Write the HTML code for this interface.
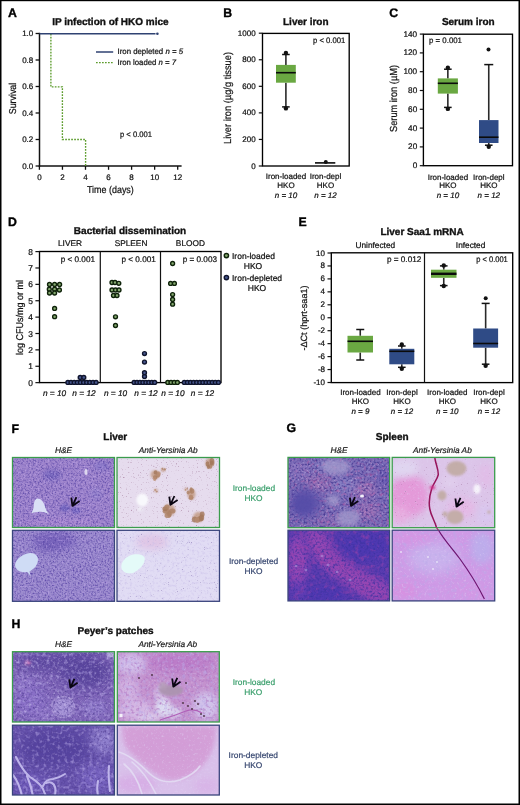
<!DOCTYPE html>
<html><head><meta charset="utf-8"><title>Figure</title>
<style>html,body{margin:0;padding:0;background:#fff}svg{display:block}text{white-space:pre;text-rendering:geometricPrecision}</style></head>
<body>
<svg width="520" height="805" viewBox="0 0 520 805" font-family="'Liberation Sans', Arial, Helvetica, sans-serif">
<defs>
<filter id="b1" x="-50%" y="-50%" width="200%" height="200%" color-interpolation-filters="sRGB"><feGaussianBlur stdDeviation="1"/></filter>
<filter id="b2" x="-50%" y="-50%" width="200%" height="200%" color-interpolation-filters="sRGB"><feGaussianBlur stdDeviation="2"/></filter>
<filter id="b3" x="-50%" y="-50%" width="200%" height="200%" color-interpolation-filters="sRGB"><feGaussianBlur stdDeviation="3.5"/></filter>
<filter id="b5" x="-50%" y="-50%" width="200%" height="200%" color-interpolation-filters="sRGB"><feGaussianBlur stdDeviation="6"/></filter>
<filter id="b05" x="-50%" y="-50%" width="200%" height="200%" color-interpolation-filters="sRGB"><feGaussianBlur stdDeviation="0.6"/></filter>
<filter id="nDark" x="0" y="0" width="100%" height="100%" color-interpolation-filters="sRGB"><feTurbulence type="fractalNoise" baseFrequency="0.6" numOctaves="2" seed="3" result="t"/><feColorMatrix in="t" type="matrix" values="0 0 0 0 0.345  0 0 0 0 0.267  0 0 0 0 0.647  2.1 0 0 0 -0.9"/></filter>
<filter id="nLtP" x="0" y="0" width="100%" height="100%" color-interpolation-filters="sRGB"><feTurbulence type="fractalNoise" baseFrequency="0.5" numOctaves="2" seed="31" result="t"/><feColorMatrix in="t" type="matrix" values="0 0 0 0 0.769  0 0 0 0 0.667  0 0 0 0 0.925  1.8 0 0 0 -0.9"/></filter>
<filter id="nDark2" x="0" y="0" width="100%" height="100%" color-interpolation-filters="sRGB"><feTurbulence type="fractalNoise" baseFrequency="0.5" numOctaves="2" seed="11" result="t"/><feColorMatrix in="t" type="matrix" values="0 0 0 0 0.235  0 0 0 0 0.188  0 0 0 0 0.549  2.2 0 0 0 -0.95"/></filter>
<filter id="nLight" x="0" y="0" width="100%" height="100%" color-interpolation-filters="sRGB"><feTurbulence type="fractalNoise" baseFrequency="0.45" numOctaves="2" seed="7" result="t"/><feColorMatrix in="t" type="matrix" values="0 0 0 0 0.882  0 0 0 0 0.843  0 0 0 0 0.961  1.4 0 0 0 -0.8"/></filter>
<filter id="nPink" x="0" y="0" width="100%" height="100%" color-interpolation-filters="sRGB"><feTurbulence type="fractalNoise" baseFrequency="0.3" numOctaves="2" seed="5" result="t"/><feColorMatrix in="t" type="matrix" values="0 0 0 0 0.784  0 0 0 0 0.373  0 0 0 0 0.659  1.5 0 0 0 -0.8"/></filter>
<filter id="nBrown" x="0" y="0" width="100%" height="100%" color-interpolation-filters="sRGB"><feTurbulence type="fractalNoise" baseFrequency="0.8" numOctaves="2" seed="9" result="t"/><feColorMatrix in="t" type="matrix" values="0 0 0 0 0.608  0 0 0 0 0.439  0 0 0 0 0.569  2.6 0 0 0 -1.66"/></filter>
<filter id="nSparse" x="0" y="0" width="100%" height="100%" color-interpolation-filters="sRGB"><feTurbulence type="fractalNoise" baseFrequency="0.9" numOctaves="2" seed="41" result="t"/><feColorMatrix in="t" type="matrix" values="0 0 0 0 0.588  0 0 0 0 0.412  0 0 0 0 0.588  3.0 0 0 0 -2.12"/></filter>
<filter id="nViolet" x="0" y="0" width="100%" height="100%" color-interpolation-filters="sRGB"><feTurbulence type="fractalNoise" baseFrequency="0.45" numOctaves="2" seed="27" result="t"/><feColorMatrix in="t" type="matrix" values="0 0 0 0 0.329  0 0 0 0 0.251  0 0 0 0 0.588  2.0 0 0 0 -0.9"/></filter>
<filter id="nSpF4" x="0" y="0" width="100%" height="100%" color-interpolation-filters="sRGB"><feTurbulence type="fractalNoise" baseFrequency="0.85" numOctaves="2" seed="51" result="t"/><feColorMatrix in="t" type="matrix" values="0 0 0 0 0.471  0 0 0 0 0.392  0 0 0 0 0.647  3.0 0 0 0 -2.08"/></filter>
<filter id="nMotF4" x="0" y="0" width="100%" height="100%" color-interpolation-filters="sRGB"><feTurbulence type="fractalNoise" baseFrequency="0.4" numOctaves="2" seed="53" result="t"/><feColorMatrix in="t" type="matrix" values="0 0 0 0 0.784  0 0 0 0 0.745  0 0 0 0 0.910  1.6 0 0 0 -0.8"/></filter>
<filter id="nPurp" x="0" y="0" width="100%" height="100%" color-interpolation-filters="sRGB"><feTurbulence type="fractalNoise" baseFrequency="0.35" numOctaves="2" seed="23" result="t"/><feColorMatrix in="t" type="matrix" values="0 0 0 0 0.659  0 0 0 0 0.408  0 0 0 0 0.737  1.8 0 0 0 -0.88"/></filter>
<filter id="nBlue" x="0" y="0" width="100%" height="100%" color-interpolation-filters="sRGB"><feTurbulence type="fractalNoise" baseFrequency="0.45" numOctaves="2" seed="21" result="t"/><feColorMatrix in="t" type="matrix" values="0 0 0 0 0.235  0 0 0 0 0.196  0 0 0 0 0.627  2.2 0 0 0 -0.95"/></filter>
<filter id="nMag" x="0" y="0" width="100%" height="100%" color-interpolation-filters="sRGB"><feTurbulence type="fractalNoise" baseFrequency="0.2" numOctaves="3" seed="13" result="t"/><feColorMatrix in="t" type="matrix" values="0 0 0 0 0.647  0 0 0 0 0.259  0 0 0 0 0.667  1.8 0 0 0 -0.95"/></filter>
<filter id="nLav" x="0" y="0" width="100%" height="100%" color-interpolation-filters="sRGB"><feTurbulence type="fractalNoise" baseFrequency="0.28" numOctaves="2" seed="17" result="t"/><feColorMatrix in="t" type="matrix" values="0 0 0 0 0.725  0 0 0 0 0.667  0 0 0 0 0.910  1.7 0 0 0 -0.85"/></filter>
<clipPath id="cF1"><rect x="12.5" y="457.5" width="102.0" height="70.0"/></clipPath>
<clipPath id="cF2"><rect x="117" y="457.5" width="102.5" height="70.0"/></clipPath>
<clipPath id="cF3"><rect x="12.5" y="530.3" width="102.0" height="71.0"/></clipPath>
<clipPath id="cF4"><rect x="117" y="530.3" width="102.5" height="71.0"/></clipPath>
<clipPath id="cG1"><rect x="288" y="457.4" width="101.60000000000002" height="70.30000000000007"/></clipPath>
<clipPath id="cG2"><rect x="392.2" y="457.4" width="102.5" height="70.30000000000007"/></clipPath>
<clipPath id="cG3"><rect x="288" y="530.2" width="101.60000000000002" height="70.69999999999993"/></clipPath>
<clipPath id="cG4"><rect x="392.2" y="530.2" width="102.5" height="70.69999999999993"/></clipPath>
<clipPath id="cH1"><rect x="12.5" y="651.7" width="102.0" height="70.29999999999995"/></clipPath>
<clipPath id="cH2"><rect x="117.3" y="651.7" width="102.00000000000001" height="70.29999999999995"/></clipPath>
<clipPath id="cH3"><rect x="12.5" y="725.2" width="102.0" height="69.79999999999995"/></clipPath>
<clipPath id="cH4"><rect x="117.3" y="725.2" width="102.00000000000001" height="69.79999999999995"/></clipPath>
</defs>
<rect x="0" y="0" width="520" height="805" fill="#fff"/>
<text x="8" y="17.2" font-size="12.3" text-anchor="start" font-weight="bold" fill="#000" stroke="#000" stroke-width="0.35">A</text>
<text x="223.2" y="17.4" font-size="12.3" text-anchor="start" font-weight="bold" fill="#000" stroke="#000" stroke-width="0.35">B</text>
<text x="389.3" y="17.4" font-size="12.3" text-anchor="start" font-weight="bold" fill="#000" stroke="#000" stroke-width="0.35">C</text>
<text x="8" y="226" font-size="12.3" text-anchor="start" font-weight="bold" fill="#000" stroke="#000" stroke-width="0.35">D</text>
<text x="298.5" y="226.3" font-size="12.3" text-anchor="start" font-weight="bold" fill="#000" stroke="#000" stroke-width="0.35">E</text>
<text x="11.6" y="432.6" font-size="12.3" text-anchor="start" font-weight="bold" fill="#000" stroke="#000" stroke-width="0.35">F</text>
<text x="286.5" y="432.2" font-size="12.3" text-anchor="start" font-weight="bold" fill="#000" stroke="#000" stroke-width="0.35">G</text>
<text x="11.6" y="627.6" font-size="12.3" text-anchor="start" font-weight="bold" fill="#000" stroke="#000" stroke-width="0.35">H</text>
<text x="110.4" y="24.8" font-size="10" text-anchor="middle" font-weight="bold" fill="#111" stroke="#111" stroke-width="0.35">IP infection of HKO mice</text>
<line x1="39.5" y1="32.8" x2="39.5" y2="166.7" stroke="#111" stroke-width="1.5"/>
<line x1="38.8" y1="166" x2="181.6" y2="166" stroke="#111" stroke-width="1.5"/>
<line x1="35.6" y1="33.5" x2="39.5" y2="33.5" stroke="#111" stroke-width="1.3"/>
<text x="33.3" y="36.0" font-size="8" text-anchor="end" fill="#111" stroke="#111" stroke-width="0.22">1.0</text>
<line x1="35.6" y1="60.0" x2="39.5" y2="60.0" stroke="#111" stroke-width="1.3"/>
<text x="33.3" y="62.5" font-size="8" text-anchor="end" fill="#111" stroke="#111" stroke-width="0.22">0.8</text>
<line x1="35.6" y1="86.5" x2="39.5" y2="86.5" stroke="#111" stroke-width="1.3"/>
<text x="33.3" y="89.0" font-size="8" text-anchor="end" fill="#111" stroke="#111" stroke-width="0.22">0.6</text>
<line x1="35.6" y1="113.0" x2="39.5" y2="113.0" stroke="#111" stroke-width="1.3"/>
<text x="33.3" y="115.5" font-size="8" text-anchor="end" fill="#111" stroke="#111" stroke-width="0.22">0.4</text>
<line x1="35.6" y1="139.5" x2="39.5" y2="139.5" stroke="#111" stroke-width="1.3"/>
<text x="33.3" y="142.0" font-size="8" text-anchor="end" fill="#111" stroke="#111" stroke-width="0.22">0.2</text>
<line x1="35.6" y1="166.0" x2="39.5" y2="166.0" stroke="#111" stroke-width="1.3"/>
<text x="33.3" y="168.5" font-size="8" text-anchor="end" fill="#111" stroke="#111" stroke-width="0.22">0.0</text>
<line x1="39.4" y1="166" x2="39.4" y2="169.8" stroke="#111" stroke-width="1.3"/>
<text x="39.4" y="179.6" font-size="8" text-anchor="middle" fill="#111" stroke="#111" stroke-width="0.22">0</text>
<line x1="62.45" y1="166" x2="62.45" y2="169.8" stroke="#111" stroke-width="1.3"/>
<text x="62.45" y="179.6" font-size="8" text-anchor="middle" fill="#111" stroke="#111" stroke-width="0.22">2</text>
<line x1="85.5" y1="166" x2="85.5" y2="169.8" stroke="#111" stroke-width="1.3"/>
<text x="85.5" y="179.6" font-size="8" text-anchor="middle" fill="#111" stroke="#111" stroke-width="0.22">4</text>
<line x1="108.55000000000001" y1="166" x2="108.55000000000001" y2="169.8" stroke="#111" stroke-width="1.3"/>
<text x="108.55000000000001" y="179.6" font-size="8" text-anchor="middle" fill="#111" stroke="#111" stroke-width="0.22">6</text>
<line x1="131.6" y1="166" x2="131.6" y2="169.8" stroke="#111" stroke-width="1.3"/>
<text x="131.6" y="179.6" font-size="8" text-anchor="middle" fill="#111" stroke="#111" stroke-width="0.22">8</text>
<line x1="154.65" y1="166" x2="154.65" y2="169.8" stroke="#111" stroke-width="1.3"/>
<text x="154.65" y="179.6" font-size="8" text-anchor="middle" fill="#111" stroke="#111" stroke-width="0.22">10</text>
<line x1="177.70000000000002" y1="166" x2="177.70000000000002" y2="169.8" stroke="#111" stroke-width="1.3"/>
<text x="177.70000000000002" y="179.6" font-size="8" text-anchor="middle" fill="#111" stroke="#111" stroke-width="0.22">12</text>
<text x="110.4" y="193" font-size="10" text-anchor="middle" fill="#111" stroke="#111" stroke-width="0.22" textLength="46.8" lengthAdjust="spacingAndGlyphs">Time (days)</text>
<text transform="translate(15.5,98.5) rotate(-90)" font-size="10" text-anchor="middle" fill="#111" stroke="#111" stroke-width="0.22" textLength="31.4" lengthAdjust="spacingAndGlyphs">Survival</text>
<path d="M50.9,33.8 V86.9 H62.4 V139.5 H85.6 V166" fill="none" stroke="#5c9c2c" stroke-width="1.35" stroke-dasharray="1.7,1.3"/>
<line x1="39.5" y1="33.8" x2="155.5" y2="33.8" stroke="#2f4272" stroke-width="1.4"/>
<circle cx="157.4" cy="33.8" r="1.3" fill="#2f4272"/>
<line x1="96" y1="52" x2="113.2" y2="52" stroke="#2f4272" stroke-width="1.5"/>
<line x1="96" y1="62.6" x2="113.2" y2="62.6" stroke="#5c9c2c" stroke-width="1.35" stroke-dasharray="1.7,1.3"/>
<text x="117.5" y="54.4" font-size="8" text-anchor="start" fill="#111" stroke="#111" stroke-width="0.22" textLength="65.5" lengthAdjust="spacingAndGlyphs">Iron depleted <tspan font-style="italic">n = 5</tspan></text>
<text x="117.5" y="65.1" font-size="8" text-anchor="start" fill="#111" stroke="#111" stroke-width="0.22" textLength="58.5" lengthAdjust="spacingAndGlyphs">Iron loaded <tspan font-style="italic">n = 7</tspan></text>
<text x="120" y="136.8" font-size="8" text-anchor="start" fill="#111" stroke="#111" stroke-width="0.22" textLength="32" lengthAdjust="spacingAndGlyphs">p &lt; 0.001</text>
<text x="305.8" y="24.8" font-size="10" text-anchor="middle" font-weight="bold" fill="#111" stroke="#111" stroke-width="0.35">Liver iron</text>
<rect x="262.5" y="33.4" width="86.7" height="132.6" fill="none" stroke="#000" stroke-width="1.35"/>
<line x1="258.8" y1="33.2" x2="262.5" y2="33.2" stroke="#111" stroke-width="1.2"/>
<text x="255.6" y="35.7" font-size="8" text-anchor="end" fill="#111" stroke="#111" stroke-width="0.22">1000</text>
<line x1="258.8" y1="59.760000000000005" x2="262.5" y2="59.760000000000005" stroke="#111" stroke-width="1.2"/>
<text x="255.6" y="62.260000000000005" font-size="8" text-anchor="end" fill="#111" stroke="#111" stroke-width="0.22">800</text>
<line x1="258.8" y1="86.32" x2="262.5" y2="86.32" stroke="#111" stroke-width="1.2"/>
<text x="255.6" y="88.82" font-size="8" text-anchor="end" fill="#111" stroke="#111" stroke-width="0.22">600</text>
<line x1="258.8" y1="112.88" x2="262.5" y2="112.88" stroke="#111" stroke-width="1.2"/>
<text x="255.6" y="115.38" font-size="8" text-anchor="end" fill="#111" stroke="#111" stroke-width="0.22">400</text>
<line x1="258.8" y1="139.44" x2="262.5" y2="139.44" stroke="#111" stroke-width="1.2"/>
<text x="255.6" y="141.94" font-size="8" text-anchor="end" fill="#111" stroke="#111" stroke-width="0.22">200</text>
<line x1="258.8" y1="166.0" x2="262.5" y2="166.0" stroke="#111" stroke-width="1.2"/>
<text x="255.6" y="168.5" font-size="8" text-anchor="end" fill="#111" stroke="#111" stroke-width="0.22">0</text>
<text x="313" y="43.2" font-size="8" text-anchor="start" fill="#111" stroke="#111" stroke-width="0.22" textLength="32.3" lengthAdjust="spacingAndGlyphs">p &lt; 0.001</text>
<line x1="285.9" y1="53" x2="285.9" y2="64.9" stroke="#2a2a2a" stroke-width="1.6"/>
<line x1="285.9" y1="82.7" x2="285.9" y2="108.4" stroke="#2a2a2a" stroke-width="1.6"/>
<rect x="276" y="64.9" width="19.80000000000001" height="17.799999999999997" fill="#6aa842"/>
<line x1="276" y1="72.7" x2="295.8" y2="72.7" stroke="#0b0b0b" stroke-width="1.6"/>
<line x1="282.09999999999997" y1="54.5" x2="289.7" y2="54.5" stroke="#111" stroke-width="1.5"/>
<circle cx="285.9" cy="53" r="2.2" fill="#111"/>
<line x1="282.09999999999997" y1="106.9" x2="289.7" y2="106.9" stroke="#111" stroke-width="1.5"/>
<circle cx="285.9" cy="108.4" r="2.2" fill="#111"/>
<line x1="315" y1="162.9" x2="335.3" y2="162.9" stroke="#0b0b0b" stroke-width="1.6"/>
<circle cx="325.8" cy="161.9" r="2" fill="#111"/>
<text x="286" y="179.3" font-size="8" text-anchor="middle" fill="#111" stroke="#111" stroke-width="0.22">Iron-loaded</text>
<text x="286" y="187.8" font-size="8" text-anchor="middle" fill="#111" stroke="#111" stroke-width="0.22">HKO</text>
<text x="286" y="197.70000000000002" font-size="8" text-anchor="middle" font-style="italic" fill="#111" stroke="#111" stroke-width="0.22">n = 10</text>
<text x="325.5" y="179.3" font-size="8" text-anchor="middle" fill="#111" stroke="#111" stroke-width="0.22">Iron-depl</text>
<text x="325.5" y="187.8" font-size="8" text-anchor="middle" fill="#111" stroke="#111" stroke-width="0.22">HKO</text>
<text x="325.5" y="197.70000000000002" font-size="8" text-anchor="middle" font-style="italic" fill="#111" stroke="#111" stroke-width="0.22">n = 12</text>
<text transform="translate(231.2,98) rotate(-90)" font-size="10.2" text-anchor="middle" fill="#111" stroke="#111" stroke-width="0.22" textLength="92" lengthAdjust="spacingAndGlyphs">Liver iron (µg/g tissue)</text>
<text x="468.3" y="24.8" font-size="10" text-anchor="middle" font-weight="bold" fill="#111" stroke="#111" stroke-width="0.35">Serum iron</text>
<rect x="423.4" y="34.2" width="89.1" height="131.5" fill="none" stroke="#000" stroke-width="1.35"/>
<line x1="419.8" y1="34.1" x2="423.4" y2="34.1" stroke="#111" stroke-width="1.2"/>
<text x="417.2" y="36.6" font-size="8.2" text-anchor="end" fill="#111" stroke="#111" stroke-width="0.22">140</text>
<line x1="419.8" y1="52.900000000000006" x2="423.4" y2="52.900000000000006" stroke="#111" stroke-width="1.2"/>
<text x="417.2" y="55.400000000000006" font-size="8.2" text-anchor="end" fill="#111" stroke="#111" stroke-width="0.22">120</text>
<line x1="419.8" y1="71.7" x2="423.4" y2="71.7" stroke="#111" stroke-width="1.2"/>
<text x="417.2" y="74.2" font-size="8.2" text-anchor="end" fill="#111" stroke="#111" stroke-width="0.22">100</text>
<line x1="419.8" y1="90.5" x2="423.4" y2="90.5" stroke="#111" stroke-width="1.2"/>
<text x="417.2" y="93.0" font-size="8.2" text-anchor="end" fill="#111" stroke="#111" stroke-width="0.22">80</text>
<line x1="419.8" y1="109.30000000000001" x2="423.4" y2="109.30000000000001" stroke="#111" stroke-width="1.2"/>
<text x="417.2" y="111.80000000000001" font-size="8.2" text-anchor="end" fill="#111" stroke="#111" stroke-width="0.22">60</text>
<line x1="419.8" y1="128.1" x2="423.4" y2="128.1" stroke="#111" stroke-width="1.2"/>
<text x="417.2" y="130.6" font-size="8.2" text-anchor="end" fill="#111" stroke="#111" stroke-width="0.22">40</text>
<line x1="419.8" y1="146.9" x2="423.4" y2="146.9" stroke="#111" stroke-width="1.2"/>
<text x="417.2" y="149.4" font-size="8.2" text-anchor="end" fill="#111" stroke="#111" stroke-width="0.22">20</text>
<line x1="419.8" y1="165.7" x2="423.4" y2="165.7" stroke="#111" stroke-width="1.2"/>
<text x="417.2" y="168.2" font-size="8.2" text-anchor="end" fill="#111" stroke="#111" stroke-width="0.22">0</text>
<text x="429" y="43.3" font-size="8" text-anchor="start" fill="#111" stroke="#111" stroke-width="0.22" textLength="33" lengthAdjust="spacingAndGlyphs">p = 0.001</text>
<line x1="447.85" y1="67.7" x2="447.85" y2="78.4" stroke="#2a2a2a" stroke-width="1.6"/>
<line x1="447.85" y1="93.6" x2="447.85" y2="108.9" stroke="#2a2a2a" stroke-width="1.6"/>
<rect x="437.8" y="78.4" width="20.099999999999966" height="15.199999999999989" fill="#6aa842"/>
<line x1="437.8" y1="83.3" x2="457.9" y2="83.3" stroke="#0b0b0b" stroke-width="1.6"/>
<line x1="444.05" y1="69.2" x2="451.65000000000003" y2="69.2" stroke="#111" stroke-width="1.5"/>
<circle cx="447.85" cy="67.7" r="2.2" fill="#111"/>
<line x1="444.05" y1="107.4" x2="451.65000000000003" y2="107.4" stroke="#111" stroke-width="1.5"/>
<circle cx="447.85" cy="108.9" r="2.2" fill="#111"/>
<line x1="488.75" y1="64.6" x2="488.75" y2="120.1" stroke="#2a2a2a" stroke-width="1.6"/>
<line x1="488.75" y1="143" x2="488.75" y2="146.7" stroke="#2a2a2a" stroke-width="1.6"/>
<rect x="479" y="120.1" width="19.5" height="22.900000000000006" fill="#2f4b86"/>
<line x1="479" y1="137.2" x2="498.5" y2="137.2" stroke="#0b0b0b" stroke-width="1.6"/>
<line x1="484.25" y1="64.6" x2="493.25" y2="64.6" stroke="#111" stroke-width="1.5"/>
<line x1="484.95" y1="145.2" x2="492.55" y2="145.2" stroke="#111" stroke-width="1.5"/>
<circle cx="488.75" cy="146.7" r="2.2" fill="#111"/>
<circle cx="488.5" cy="49.6" r="2" fill="#111"/>
<text x="447.9" y="179.7" font-size="8" text-anchor="middle" fill="#111" stroke="#111" stroke-width="0.22">Iron-loaded</text>
<text x="447.9" y="188.2" font-size="8" text-anchor="middle" fill="#111" stroke="#111" stroke-width="0.22">HKO</text>
<text x="447.9" y="198.1" font-size="8" text-anchor="middle" font-style="italic" fill="#111" stroke="#111" stroke-width="0.22">n = 10</text>
<text x="488.8" y="179.7" font-size="8" text-anchor="middle" fill="#111" stroke="#111" stroke-width="0.22">Iron-depl</text>
<text x="488.8" y="188.2" font-size="8" text-anchor="middle" fill="#111" stroke="#111" stroke-width="0.22">HKO</text>
<text x="488.8" y="198.1" font-size="8" text-anchor="middle" font-style="italic" fill="#111" stroke="#111" stroke-width="0.22">n = 12</text>
<text transform="translate(396.8,98.5) rotate(-90)" font-size="10.2" text-anchor="middle" fill="#111" stroke="#111" stroke-width="0.22" textLength="67" lengthAdjust="spacingAndGlyphs">Serum iron (µM)</text>
<text x="130" y="233.7" font-size="10" text-anchor="middle" font-weight="bold" fill="#111" stroke="#111" stroke-width="0.35">Bacterial dissemination</text>
<rect x="39.5" y="251.5" width="181.5" height="131.10000000000002" fill="none" stroke="#000" stroke-width="1.35"/>
<line x1="100.3" y1="251.5" x2="100.3" y2="382.6" stroke="#111" stroke-width="1.2"/>
<line x1="160.5" y1="251.5" x2="160.5" y2="382.6" stroke="#111" stroke-width="1.2"/>
<line x1="35.4" y1="251.6" x2="39.5" y2="251.6" stroke="#111" stroke-width="1.2"/>
<text x="32.9" y="254.6" font-size="8.4" text-anchor="end" fill="#111" stroke="#111" stroke-width="0.22">8</text>
<line x1="35.4" y1="267.98" x2="39.5" y2="267.98" stroke="#111" stroke-width="1.2"/>
<text x="32.9" y="270.98" font-size="8.4" text-anchor="end" fill="#111" stroke="#111" stroke-width="0.22">7</text>
<line x1="35.4" y1="284.36" x2="39.5" y2="284.36" stroke="#111" stroke-width="1.2"/>
<text x="32.9" y="287.36" font-size="8.4" text-anchor="end" fill="#111" stroke="#111" stroke-width="0.22">6</text>
<line x1="35.4" y1="300.74" x2="39.5" y2="300.74" stroke="#111" stroke-width="1.2"/>
<text x="32.9" y="303.74" font-size="8.4" text-anchor="end" fill="#111" stroke="#111" stroke-width="0.22">5</text>
<line x1="35.4" y1="317.12" x2="39.5" y2="317.12" stroke="#111" stroke-width="1.2"/>
<text x="32.9" y="320.12" font-size="8.4" text-anchor="end" fill="#111" stroke="#111" stroke-width="0.22">4</text>
<line x1="35.4" y1="333.5" x2="39.5" y2="333.5" stroke="#111" stroke-width="1.2"/>
<text x="32.9" y="336.5" font-size="8.4" text-anchor="end" fill="#111" stroke="#111" stroke-width="0.22">3</text>
<line x1="35.4" y1="349.88" x2="39.5" y2="349.88" stroke="#111" stroke-width="1.2"/>
<text x="32.9" y="352.88" font-size="8.4" text-anchor="end" fill="#111" stroke="#111" stroke-width="0.22">2</text>
<line x1="35.4" y1="366.26" x2="39.5" y2="366.26" stroke="#111" stroke-width="1.2"/>
<text x="32.9" y="369.26" font-size="8.4" text-anchor="end" fill="#111" stroke="#111" stroke-width="0.22">1</text>
<line x1="35.4" y1="382.64" x2="39.5" y2="382.64" stroke="#111" stroke-width="1.2"/>
<text x="32.9" y="385.64" font-size="8.4" text-anchor="end" fill="#111" stroke="#111" stroke-width="0.22">0</text>
<text x="70" y="246.2" font-size="8.3" text-anchor="middle" fill="#111" stroke="#111" stroke-width="0.22">LIVER</text>
<text x="131" y="246.2" font-size="8.3" text-anchor="middle" fill="#111" stroke="#111" stroke-width="0.22">SPLEEN</text>
<text x="190.4" y="246.2" font-size="8.3" text-anchor="middle" fill="#111" stroke="#111" stroke-width="0.22">BLOOD</text>
<text x="95" y="262.4" font-size="8.2" text-anchor="end" fill="#111" stroke="#111" stroke-width="0.22">p &lt; 0.001</text>
<text x="155.8" y="262.4" font-size="8.2" text-anchor="end" fill="#111" stroke="#111" stroke-width="0.22">p &lt; 0.001</text>
<text x="217" y="262.4" font-size="8.2" text-anchor="end" fill="#111" stroke="#111" stroke-width="0.22">p = 0.003</text>
<text x="54.6" y="396" font-size="8.3" text-anchor="middle" font-style="italic" fill="#111" stroke="#111" stroke-width="0.22">n = 10</text>
<text x="84" y="396" font-size="8.3" text-anchor="middle" font-style="italic" fill="#111" stroke="#111" stroke-width="0.22">n = 12</text>
<text x="115.6" y="396" font-size="8.3" text-anchor="middle" font-style="italic" fill="#111" stroke="#111" stroke-width="0.22">n = 10</text>
<text x="146" y="396" font-size="8.3" text-anchor="middle" font-style="italic" fill="#111" stroke="#111" stroke-width="0.22">n = 12</text>
<text x="172.9" y="396" font-size="8.3" text-anchor="middle" font-style="italic" fill="#111" stroke="#111" stroke-width="0.22">n = 10</text>
<text x="202.5" y="396" font-size="8.3" text-anchor="middle" font-style="italic" fill="#111" stroke="#111" stroke-width="0.22">n = 12</text>
<text transform="translate(23.2,317.4) rotate(-90)" font-size="9.8" text-anchor="middle" fill="#111" stroke="#111" stroke-width="0.22" textLength="75" lengthAdjust="spacingAndGlyphs">log CFUs/mg or ml</text>
<circle cx="49.5" cy="284.5" r="1.95" fill="#86aa70" stroke="#0f230a" stroke-width="1.4"/>
<circle cx="54.6" cy="284.5" r="1.95" fill="#86aa70" stroke="#0f230a" stroke-width="1.4"/>
<circle cx="59.6" cy="284.5" r="1.95" fill="#86aa70" stroke="#0f230a" stroke-width="1.4"/>
<circle cx="49.3" cy="289.2" r="1.95" fill="#86aa70" stroke="#0f230a" stroke-width="1.4"/>
<circle cx="54.6" cy="289.2" r="1.95" fill="#86aa70" stroke="#0f230a" stroke-width="1.4"/>
<circle cx="59.4" cy="290.0" r="1.95" fill="#86aa70" stroke="#0f230a" stroke-width="1.4"/>
<circle cx="49.5" cy="293.0" r="1.95" fill="#86aa70" stroke="#0f230a" stroke-width="1.4"/>
<circle cx="54.6" cy="293.0" r="1.95" fill="#86aa70" stroke="#0f230a" stroke-width="1.4"/>
<circle cx="54.6" cy="308.4" r="1.95" fill="#86aa70" stroke="#0f230a" stroke-width="1.4"/>
<circle cx="54.6" cy="316.7" r="1.95" fill="#86aa70" stroke="#0f230a" stroke-width="1.4"/>
<circle cx="67.9" cy="382.4" r="1.95" fill="#48588e" stroke="#0f142d" stroke-width="1.4"/>
<circle cx="71.0" cy="382.4" r="1.95" fill="#48588e" stroke="#0f142d" stroke-width="1.4"/>
<circle cx="74.2" cy="382.4" r="1.95" fill="#48588e" stroke="#0f142d" stroke-width="1.4"/>
<circle cx="77.3" cy="382.4" r="1.95" fill="#48588e" stroke="#0f142d" stroke-width="1.4"/>
<circle cx="80.4" cy="382.4" r="1.95" fill="#48588e" stroke="#0f142d" stroke-width="1.4"/>
<circle cx="83.6" cy="382.4" r="1.95" fill="#48588e" stroke="#0f142d" stroke-width="1.4"/>
<circle cx="86.7" cy="382.4" r="1.95" fill="#48588e" stroke="#0f142d" stroke-width="1.4"/>
<circle cx="89.8" cy="382.4" r="1.95" fill="#48588e" stroke="#0f142d" stroke-width="1.4"/>
<circle cx="93.0" cy="382.4" r="1.95" fill="#48588e" stroke="#0f142d" stroke-width="1.4"/>
<circle cx="96.1" cy="382.4" r="1.95" fill="#48588e" stroke="#0f142d" stroke-width="1.4"/>
<circle cx="80.2" cy="377.4" r="1.95" fill="#48588e" stroke="#0f142d" stroke-width="1.4"/>
<circle cx="83.8" cy="377.4" r="1.95" fill="#48588e" stroke="#0f142d" stroke-width="1.4"/>
<circle cx="112.0" cy="282.5" r="1.95" fill="#86aa70" stroke="#0f230a" stroke-width="1.4"/>
<circle cx="115.0" cy="282.5" r="1.95" fill="#86aa70" stroke="#0f230a" stroke-width="1.4"/>
<circle cx="118.8" cy="283.3" r="1.95" fill="#86aa70" stroke="#0f230a" stroke-width="1.4"/>
<circle cx="112.0" cy="290.0" r="1.95" fill="#86aa70" stroke="#0f230a" stroke-width="1.4"/>
<circle cx="115.5" cy="290.0" r="1.95" fill="#86aa70" stroke="#0f230a" stroke-width="1.4"/>
<circle cx="119.0" cy="290.0" r="1.95" fill="#86aa70" stroke="#0f230a" stroke-width="1.4"/>
<circle cx="113.5" cy="295.5" r="1.95" fill="#86aa70" stroke="#0f230a" stroke-width="1.4"/>
<circle cx="117.0" cy="295.5" r="1.95" fill="#86aa70" stroke="#0f230a" stroke-width="1.4"/>
<circle cx="115.5" cy="316.8" r="1.95" fill="#86aa70" stroke="#0f230a" stroke-width="1.4"/>
<circle cx="115.5" cy="325.5" r="1.95" fill="#86aa70" stroke="#0f230a" stroke-width="1.4"/>
<circle cx="134.1" cy="382.4" r="1.95" fill="#48588e" stroke="#0f142d" stroke-width="1.4"/>
<circle cx="137.0" cy="382.4" r="1.95" fill="#48588e" stroke="#0f142d" stroke-width="1.4"/>
<circle cx="140.0" cy="382.4" r="1.95" fill="#48588e" stroke="#0f142d" stroke-width="1.4"/>
<circle cx="142.9" cy="382.4" r="1.95" fill="#48588e" stroke="#0f142d" stroke-width="1.4"/>
<circle cx="145.9" cy="382.4" r="1.95" fill="#48588e" stroke="#0f142d" stroke-width="1.4"/>
<circle cx="148.8" cy="382.4" r="1.95" fill="#48588e" stroke="#0f142d" stroke-width="1.4"/>
<circle cx="151.8" cy="382.4" r="1.95" fill="#48588e" stroke="#0f142d" stroke-width="1.4"/>
<circle cx="154.7" cy="382.4" r="1.95" fill="#48588e" stroke="#0f142d" stroke-width="1.4"/>
<circle cx="144.5" cy="376.5" r="1.95" fill="#48588e" stroke="#0f142d" stroke-width="1.4"/>
<circle cx="144.5" cy="372.7" r="1.95" fill="#48588e" stroke="#0f142d" stroke-width="1.4"/>
<circle cx="144.5" cy="362.1" r="1.95" fill="#48588e" stroke="#0f142d" stroke-width="1.4"/>
<circle cx="144.5" cy="353.6" r="1.95" fill="#48588e" stroke="#0f142d" stroke-width="1.4"/>
<circle cx="172.6" cy="263.5" r="1.95" fill="#86aa70" stroke="#0f230a" stroke-width="1.4"/>
<circle cx="170.6" cy="283.4" r="1.95" fill="#86aa70" stroke="#0f230a" stroke-width="1.4"/>
<circle cx="174.4" cy="283.4" r="1.95" fill="#86aa70" stroke="#0f230a" stroke-width="1.4"/>
<circle cx="172.6" cy="294.6" r="1.95" fill="#86aa70" stroke="#0f230a" stroke-width="1.4"/>
<circle cx="172.6" cy="299.4" r="1.95" fill="#86aa70" stroke="#0f230a" stroke-width="1.4"/>
<circle cx="172.6" cy="304.2" r="1.95" fill="#86aa70" stroke="#0f230a" stroke-width="1.4"/>
<circle cx="167.8" cy="382.4" r="1.95" fill="#86aa70" stroke="#0f230a" stroke-width="1.4"/>
<circle cx="171.0" cy="382.4" r="1.95" fill="#86aa70" stroke="#0f230a" stroke-width="1.4"/>
<circle cx="174.2" cy="382.4" r="1.95" fill="#86aa70" stroke="#0f230a" stroke-width="1.4"/>
<circle cx="177.4" cy="382.4" r="1.95" fill="#86aa70" stroke="#0f230a" stroke-width="1.4"/>
<circle cx="184.3" cy="382.4" r="1.95" fill="#48588e" stroke="#0f142d" stroke-width="1.4"/>
<circle cx="187.4" cy="382.4" r="1.95" fill="#48588e" stroke="#0f142d" stroke-width="1.4"/>
<circle cx="190.5" cy="382.4" r="1.95" fill="#48588e" stroke="#0f142d" stroke-width="1.4"/>
<circle cx="193.6" cy="382.4" r="1.95" fill="#48588e" stroke="#0f142d" stroke-width="1.4"/>
<circle cx="196.7" cy="382.4" r="1.95" fill="#48588e" stroke="#0f142d" stroke-width="1.4"/>
<circle cx="199.8" cy="382.4" r="1.95" fill="#48588e" stroke="#0f142d" stroke-width="1.4"/>
<circle cx="202.9" cy="382.4" r="1.95" fill="#48588e" stroke="#0f142d" stroke-width="1.4"/>
<circle cx="206.0" cy="382.4" r="1.95" fill="#48588e" stroke="#0f142d" stroke-width="1.4"/>
<circle cx="209.1" cy="382.4" r="1.95" fill="#48588e" stroke="#0f142d" stroke-width="1.4"/>
<circle cx="212.2" cy="382.4" r="1.95" fill="#48588e" stroke="#0f142d" stroke-width="1.4"/>
<circle cx="215.3" cy="382.4" r="1.95" fill="#48588e" stroke="#0f142d" stroke-width="1.4"/>
<circle cx="218.4" cy="382.4" r="1.95" fill="#48588e" stroke="#0f142d" stroke-width="1.4"/>
<circle cx="226.4" cy="255.6" r="2.15" fill="#86aa70" stroke="#0f230a" stroke-width="1.4"/>
<circle cx="226.4" cy="277.6" r="2.15" fill="#48588e" stroke="#0f142d" stroke-width="1.4"/>
<text x="232" y="258.5" font-size="8.5" text-anchor="start" fill="#111" stroke="#111" stroke-width="0.22">Iron-loaded</text>
<text x="253" y="269.3" font-size="8.5" text-anchor="middle" fill="#111" stroke="#111" stroke-width="0.22">HKO</text>
<text x="232" y="280.5" font-size="8.5" text-anchor="start" fill="#111" stroke="#111" stroke-width="0.22">Iron-depleted</text>
<text x="257" y="291.3" font-size="8.5" text-anchor="middle" fill="#111" stroke="#111" stroke-width="0.22">HKO</text>
<text x="422.1" y="235" font-size="10" text-anchor="middle" font-weight="bold" fill="#111" stroke="#111" stroke-width="0.35">Liver Saa1 mRNA</text>
<text x="375.3" y="247.9" font-size="8.3" text-anchor="middle" fill="#111" stroke="#111" stroke-width="0.22">Uninfected</text>
<text x="470.6" y="247.9" font-size="8.3" text-anchor="middle" fill="#111" stroke="#111" stroke-width="0.22">Infected</text>
<rect x="331.3" y="252.8" width="181.4" height="129.8" fill="none" stroke="#000" stroke-width="1.35"/>
<line x1="424.5" y1="252.8" x2="424.5" y2="382.4" stroke="#111" stroke-width="1.2"/>
<line x1="327.5" y1="253.0" x2="331.3" y2="253.0" stroke="#111" stroke-width="1.2"/>
<text x="325" y="255.5" font-size="8" text-anchor="end" fill="#111" stroke="#111" stroke-width="0.22">10</text>
<line x1="327.5" y1="265.95" x2="331.3" y2="265.95" stroke="#111" stroke-width="1.2"/>
<text x="325" y="268.45" font-size="8" text-anchor="end" fill="#111" stroke="#111" stroke-width="0.22">8</text>
<line x1="327.5" y1="278.9" x2="331.3" y2="278.9" stroke="#111" stroke-width="1.2"/>
<text x="325" y="281.4" font-size="8" text-anchor="end" fill="#111" stroke="#111" stroke-width="0.22">6</text>
<line x1="327.5" y1="291.85" x2="331.3" y2="291.85" stroke="#111" stroke-width="1.2"/>
<text x="325" y="294.35" font-size="8" text-anchor="end" fill="#111" stroke="#111" stroke-width="0.22">4</text>
<line x1="327.5" y1="304.8" x2="331.3" y2="304.8" stroke="#111" stroke-width="1.2"/>
<text x="325" y="307.3" font-size="8" text-anchor="end" fill="#111" stroke="#111" stroke-width="0.22">2</text>
<line x1="327.5" y1="317.75" x2="331.3" y2="317.75" stroke="#111" stroke-width="1.2"/>
<text x="325" y="320.25" font-size="8" text-anchor="end" fill="#111" stroke="#111" stroke-width="0.22">0</text>
<line x1="327.5" y1="330.7" x2="331.3" y2="330.7" stroke="#111" stroke-width="1.2"/>
<text x="325" y="333.2" font-size="8" text-anchor="end" fill="#111" stroke="#111" stroke-width="0.22">-2</text>
<line x1="327.5" y1="343.65" x2="331.3" y2="343.65" stroke="#111" stroke-width="1.2"/>
<text x="325" y="346.15" font-size="8" text-anchor="end" fill="#111" stroke="#111" stroke-width="0.22">-4</text>
<line x1="327.5" y1="356.6" x2="331.3" y2="356.6" stroke="#111" stroke-width="1.2"/>
<text x="325" y="359.1" font-size="8" text-anchor="end" fill="#111" stroke="#111" stroke-width="0.22">-6</text>
<line x1="327.5" y1="369.55" x2="331.3" y2="369.55" stroke="#111" stroke-width="1.2"/>
<text x="325" y="372.05" font-size="8" text-anchor="end" fill="#111" stroke="#111" stroke-width="0.22">-8</text>
<line x1="327.5" y1="382.5" x2="331.3" y2="382.5" stroke="#111" stroke-width="1.2"/>
<text x="325" y="385.0" font-size="8" text-anchor="end" fill="#111" stroke="#111" stroke-width="0.22">-10</text>
<text x="421.3" y="262.4" font-size="8.2" text-anchor="end" fill="#111" stroke="#111" stroke-width="0.22">p = 0.012</text>
<text x="507.8" y="262.4" font-size="8.2" text-anchor="end" fill="#111" stroke="#111" stroke-width="0.22" textLength="31.6" lengthAdjust="spacingAndGlyphs">p &lt; 0.001</text>
<line x1="360.25" y1="329.5" x2="360.25" y2="335.8" stroke="#2a2a2a" stroke-width="1.6"/>
<line x1="360.25" y1="352.5" x2="360.25" y2="360" stroke="#2a2a2a" stroke-width="1.6"/>
<rect x="347.5" y="335.8" width="25.5" height="16.69999999999999" fill="#6aa842"/>
<line x1="347.5" y1="341.3" x2="373" y2="341.3" stroke="#0b0b0b" stroke-width="1.6"/>
<line x1="356.25" y1="329.5" x2="364.25" y2="329.5" stroke="#111" stroke-width="1.5"/>
<line x1="356.25" y1="360" x2="364.25" y2="360" stroke="#111" stroke-width="1.5"/>
<line x1="401.8" y1="344.5" x2="401.8" y2="348.8" stroke="#2a2a2a" stroke-width="1.6"/>
<line x1="401.8" y1="364.3" x2="401.8" y2="368.8" stroke="#2a2a2a" stroke-width="1.6"/>
<rect x="389.3" y="348.8" width="25.0" height="15.5" fill="#2f4b86"/>
<line x1="389.3" y1="351.3" x2="414.3" y2="351.3" stroke="#0b0b0b" stroke-width="1.6"/>
<line x1="398.0" y1="346.0" x2="405.6" y2="346.0" stroke="#111" stroke-width="1.5"/>
<circle cx="401.8" cy="344.5" r="2.2" fill="#111"/>
<line x1="398.0" y1="367.3" x2="405.6" y2="367.3" stroke="#111" stroke-width="1.5"/>
<circle cx="401.8" cy="368.8" r="2.2" fill="#111"/>
<line x1="443.75" y1="265.5" x2="443.75" y2="269.7" stroke="#2a2a2a" stroke-width="1.6"/>
<line x1="443.75" y1="277.8" x2="443.75" y2="286" stroke="#2a2a2a" stroke-width="1.6"/>
<rect x="431" y="269.7" width="25.5" height="8.100000000000023" fill="#6aa842"/>
<line x1="431" y1="273.8" x2="456.5" y2="273.8" stroke="#0b0b0b" stroke-width="2.4"/>
<line x1="439.95" y1="265.9" x2="447.55" y2="265.9" stroke="#111" stroke-width="1.5"/>
<circle cx="443.75" cy="265.5" r="2.2" fill="#111"/>
<line x1="439.95" y1="285.6" x2="447.55" y2="285.6" stroke="#111" stroke-width="1.5"/>
<circle cx="443.75" cy="286" r="2.2" fill="#111"/>
<line x1="485.65" y1="303.4" x2="485.65" y2="328.5" stroke="#2a2a2a" stroke-width="1.6"/>
<line x1="485.65" y1="347.7" x2="485.65" y2="365.7" stroke="#2a2a2a" stroke-width="1.6"/>
<rect x="473.2" y="328.5" width="24.900000000000034" height="19.19999999999999" fill="#2f4b86"/>
<line x1="473.2" y1="343.5" x2="498.1" y2="343.5" stroke="#0b0b0b" stroke-width="1.6"/>
<line x1="481.65" y1="303.4" x2="489.65" y2="303.4" stroke="#111" stroke-width="1.5"/>
<line x1="481.84999999999997" y1="364.2" x2="489.45" y2="364.2" stroke="#111" stroke-width="1.5"/>
<circle cx="485.65" cy="365.7" r="2.2" fill="#111"/>
<circle cx="485.7" cy="298.3" r="2" fill="#111"/>
<text x="360.4" y="395.4" font-size="8" text-anchor="middle" fill="#111" stroke="#111" stroke-width="0.22">Iron-loaded</text>
<text x="360.4" y="403.9" font-size="8" text-anchor="middle" fill="#111" stroke="#111" stroke-width="0.22">HKO</text>
<text x="360.4" y="413.79999999999995" font-size="8" text-anchor="middle" font-style="italic" fill="#111" stroke="#111" stroke-width="0.22">n = 9</text>
<text x="402" y="395.4" font-size="8" text-anchor="middle" fill="#111" stroke="#111" stroke-width="0.22">Iron-depl</text>
<text x="402" y="403.9" font-size="8" text-anchor="middle" fill="#111" stroke="#111" stroke-width="0.22">HKO</text>
<text x="402" y="413.79999999999995" font-size="8" text-anchor="middle" font-style="italic" fill="#111" stroke="#111" stroke-width="0.22">n = 12</text>
<text x="447.3" y="395.4" font-size="8" text-anchor="middle" fill="#111" stroke="#111" stroke-width="0.22">Iron-loaded</text>
<text x="447.3" y="403.9" font-size="8" text-anchor="middle" fill="#111" stroke="#111" stroke-width="0.22">HKO</text>
<text x="447.3" y="413.79999999999995" font-size="8" text-anchor="middle" font-style="italic" fill="#111" stroke="#111" stroke-width="0.22">n = 10</text>
<text x="489" y="395.4" font-size="8" text-anchor="middle" fill="#111" stroke="#111" stroke-width="0.22">Iron-depl</text>
<text x="489" y="403.9" font-size="8" text-anchor="middle" fill="#111" stroke="#111" stroke-width="0.22">HKO</text>
<text x="489" y="413.79999999999995" font-size="8" text-anchor="middle" font-style="italic" fill="#111" stroke="#111" stroke-width="0.22">n = 12</text>
<text transform="translate(306.6,318) rotate(-90)" font-size="9" text-anchor="middle" fill="#111" stroke="#111" stroke-width="0.22" textLength="65" lengthAdjust="spacingAndGlyphs">-ΔCt (hprt-saa1)</text>
<text x="115.3" y="440.4" font-size="10" text-anchor="middle" fill="#111" stroke="#111" stroke-width="0.35" font-weight="bold">Liver</text>
<text x="63.5" y="452.8" font-size="8.3" text-anchor="middle" fill="#1a1a1a" stroke="#1a1a1a" stroke-width="0.2" font-style="italic">H&amp;E</text>
<text x="168.2" y="452.8" font-size="8.3" text-anchor="middle" fill="#1a1a1a" stroke="#1a1a1a" stroke-width="0.2" font-style="italic">Anti-Yersinia Ab</text>
<g clip-path="url(#cF1)">
<rect x="12.5" y="457.5" width="102.0" height="70.0" fill="#a086cd"/>
<ellipse cx="52" cy="475" rx="9" ry="5.5" fill="#7e6ec2" filter="url(#b2)" opacity="1"/>
<ellipse cx="65" cy="508" rx="5" ry="3.8" fill="#7668c0" filter="url(#b1)" opacity="1"/>
<ellipse cx="76" cy="510.5" rx="4.5" ry="3" fill="#7a6cc4" filter="url(#b1)" opacity="1"/>
<ellipse cx="102" cy="466" rx="8" ry="4.5" fill="#8878c8" filter="url(#b2)" opacity="0.9"/>
<ellipse cx="96" cy="494" rx="6" ry="6" fill="#9586cf" filter="url(#b2)" opacity="0.7"/>
<ellipse cx="60" cy="522" rx="40" ry="3" fill="#b48fd6" filter="url(#b2)" opacity="0.7"/>
<rect x="12.5" y="457.5" width="102.0" height="70.0" filter="url(#nDark)"/>
<rect x="12.5" y="457.5" width="102.0" height="70.0" filter="url(#nLtP)"/>
<path d="M37.3,498.6 C41,498.5 43.5,502 44.8,506 C45.8,509 47,512 48.6,514 C45,512.2 42,511.5 39.5,511.8 C36.5,512 33.5,512.6 31.3,513.2 C33.2,510.5 33.6,508 33.8,505.4 C34,502 35,499 37.3,498.6Z" fill="#dadff5" filter="url(#b05)"/>
<ellipse cx="86" cy="472" rx="1.5" ry="3" fill="#e6e2f4" filter="url(#b05)" opacity="0.9"/>
<path d="M71.3,497.7 L72.4,505.9 L76.4,497.1 M72.4,505.9 L79.6,501.0" fill="none" stroke="#0a0612" stroke-width="1.8" stroke-linejoin="round"/>
</g>
<rect x="12.5" y="457.5" width="102.0" height="70.0" fill="none" stroke="#3a9c4c" stroke-width="1.3"/>
<g clip-path="url(#cF2)">
<rect x="117" y="457.5" width="102.5" height="70.0" fill="#e6dcee"/>
<rect x="117" y="457.5" width="102.5" height="70.0" filter="url(#nBrown)"/>
<ellipse cx="155" cy="474.7" rx="4.4" ry="4.4" fill="#c39c86" filter="url(#b1)" opacity="0.85"/>
<ellipse cx="155.2" cy="476.8" rx="2.1" ry="1.8" fill="#ad8266" filter="url(#b05)" opacity="0.8"/>
<ellipse cx="158.1" cy="475.1" rx="2.0" ry="2.7" fill="#ad8266" filter="url(#b05)" opacity="0.8"/>
<ellipse cx="155.5" cy="477.8" rx="2.0" ry="1.8" fill="#ad8266" filter="url(#b05)" opacity="0.8"/>
<ellipse cx="154.7" cy="478.7" rx="1.7" ry="2.4" fill="#b88c72" filter="url(#b05)" opacity="0.8"/>
<ellipse cx="155.7" cy="472.5" rx="2.0" ry="2.3" fill="#a4785c" filter="url(#b05)" opacity="0.8"/>
<ellipse cx="158.7" cy="473.8" rx="2.1" ry="2.6" fill="#b88c72" filter="url(#b05)" opacity="0.8"/>
<ellipse cx="163" cy="470" rx="2.08" ry="2.08" fill="#c39c86" filter="url(#b1)" opacity="0.85"/>
<ellipse cx="162.3" cy="468.7" rx="0.9" ry="1.0" fill="#ad8266" filter="url(#b05)" opacity="0.8"/>
<ellipse cx="164.7" cy="469.4" rx="1.3" ry="1.2" fill="#ad8266" filter="url(#b05)" opacity="0.8"/>
<ellipse cx="209.5" cy="463" rx="4.0" ry="5.2" fill="#c39c86" filter="url(#b1)" opacity="0.85"/>
<ellipse cx="211.9" cy="461.0" rx="2.4" ry="3.1" fill="#a4785c" filter="url(#b05)" opacity="0.8"/>
<ellipse cx="210.4" cy="466.2" rx="1.8" ry="2.5" fill="#ad8266" filter="url(#b05)" opacity="0.8"/>
<ellipse cx="208.4" cy="467.1" rx="1.5" ry="2.0" fill="#a4785c" filter="url(#b05)" opacity="0.8"/>
<ellipse cx="212.3" cy="462.9" rx="2.1" ry="2.9" fill="#ad8266" filter="url(#b05)" opacity="0.8"/>
<ellipse cx="211.6" cy="462.9" rx="1.9" ry="2.2" fill="#a4785c" filter="url(#b05)" opacity="0.8"/>
<ellipse cx="207.5" cy="464.0" rx="1.9" ry="2.7" fill="#a4785c" filter="url(#b05)" opacity="0.8"/>
<ellipse cx="191.5" cy="494.3" rx="4.0" ry="5.2" fill="#c39c86" filter="url(#b1)" opacity="0.85"/>
<ellipse cx="188.2" cy="492.6" rx="1.6" ry="2.0" fill="#ad8266" filter="url(#b05)" opacity="0.8"/>
<ellipse cx="191.0" cy="498.0" rx="2.4" ry="2.1" fill="#ad8266" filter="url(#b05)" opacity="0.8"/>
<ellipse cx="191.0" cy="496.6" rx="1.9" ry="2.1" fill="#b88c72" filter="url(#b05)" opacity="0.8"/>
<ellipse cx="191.1" cy="489.6" rx="1.5" ry="2.3" fill="#ad8266" filter="url(#b05)" opacity="0.8"/>
<ellipse cx="191.9" cy="491.0" rx="2.4" ry="2.8" fill="#ad8266" filter="url(#b05)" opacity="0.8"/>
<ellipse cx="190.9" cy="497.0" rx="1.9" ry="2.1" fill="#b88c72" filter="url(#b05)" opacity="0.8"/>
<ellipse cx="156" cy="490.5" rx="2.0" ry="1.8399999999999999" fill="#c39c86" filter="url(#b1)" opacity="0.85"/>
<ellipse cx="155.2" cy="489.9" rx="1.0" ry="0.9" fill="#b88c72" filter="url(#b05)" opacity="0.8"/>
<ellipse cx="156.8" cy="491.8" rx="0.9" ry="0.8" fill="#ad8266" filter="url(#b05)" opacity="0.8"/>
<ellipse cx="169.3" cy="510" rx="6.0" ry="6.0" fill="#c39c86" filter="url(#b1)" opacity="0.85"/>
<ellipse cx="166.3" cy="511.2" rx="3.6" ry="2.4" fill="#ad8266" filter="url(#b05)" opacity="0.8"/>
<ellipse cx="172.2" cy="511.1" rx="3.3" ry="2.5" fill="#ad8266" filter="url(#b05)" opacity="0.8"/>
<ellipse cx="165.1" cy="508.8" rx="2.7" ry="2.3" fill="#a4785c" filter="url(#b05)" opacity="0.8"/>
<ellipse cx="167.8" cy="515.4" rx="3.2" ry="2.6" fill="#ad8266" filter="url(#b05)" opacity="0.8"/>
<ellipse cx="169.5" cy="513.9" rx="2.3" ry="2.9" fill="#ad8266" filter="url(#b05)" opacity="0.8"/>
<ellipse cx="166.9" cy="506.9" rx="2.6" ry="2.5" fill="#ad8266" filter="url(#b05)" opacity="0.8"/>
<ellipse cx="198.4" cy="517" rx="5.2" ry="5.2" fill="#c39c86" filter="url(#b1)" opacity="0.85"/>
<ellipse cx="198.3" cy="519.9" rx="2.2" ry="2.3" fill="#b88c72" filter="url(#b05)" opacity="0.8"/>
<ellipse cx="199.9" cy="518.9" rx="3.2" ry="2.7" fill="#a4785c" filter="url(#b05)" opacity="0.8"/>
<ellipse cx="194.6" cy="519.6" rx="2.8" ry="3.0" fill="#a4785c" filter="url(#b05)" opacity="0.8"/>
<ellipse cx="201.6" cy="517.8" rx="2.5" ry="3.2" fill="#a4785c" filter="url(#b05)" opacity="0.8"/>
<ellipse cx="202.2" cy="514.2" rx="2.4" ry="2.8" fill="#a4785c" filter="url(#b05)" opacity="0.8"/>
<ellipse cx="197.1" cy="520.1" rx="2.2" ry="3.0" fill="#b88c72" filter="url(#b05)" opacity="0.8"/>
<ellipse cx="186" cy="489" rx="1.6" ry="1.6" fill="#c39c86" filter="url(#b1)" opacity="0.85"/>
<ellipse cx="185.5" cy="489.9" rx="0.8" ry="0.9" fill="#b88c72" filter="url(#b05)" opacity="0.8"/>
<ellipse cx="187.2" cy="488.7" rx="0.6" ry="1.0" fill="#ad8266" filter="url(#b05)" opacity="0.8"/>
<ellipse cx="142.3" cy="500" rx="6" ry="6.5" fill="#f8f8fc" filter="url(#b1)" opacity="1"/>
<ellipse cx="140" cy="509" rx="3" ry="2" fill="#efeef6" filter="url(#b1)" opacity="0.9"/>
<path d="M169.3,496.6 L170.4,504.8 L174.4,496.0 M170.4,504.8 L177.6,499.9" fill="none" stroke="#0a0612" stroke-width="1.8" stroke-linejoin="round"/>
</g>
<rect x="117" y="457.5" width="102.5" height="70.0" fill="none" stroke="#3a9c4c" stroke-width="1.3"/>
<g clip-path="url(#cF3)">
<rect x="12.5" y="530.3" width="102.0" height="71.0" fill="#9c8bce"/>
<ellipse cx="54" cy="541" rx="22" ry="10" fill="#7c68be" filter="url(#b3)" opacity="0.95"/>
<ellipse cx="48" cy="545" rx="9" ry="6" fill="#7561b8" filter="url(#b3)" opacity="0.7"/>
<rect x="12.5" y="530.3" width="102.0" height="71.0" filter="url(#nDark)"/>
<rect x="12.5" y="530.3" width="102.0" height="71.0" filter="url(#nLtP)"/>
<path d="M15,565 C16,559 22,554 30,553 C35,552.8 38,556 38,559.5 C38,565 34,569 29.5,571.5 L30.5,576 L27.5,572 C22,573 15.5,571 15,565Z" fill="#cfdcf5" filter="url(#b05)"/>
</g>
<rect x="12.5" y="530.3" width="102.0" height="71.0" fill="none" stroke="#39447c" stroke-width="1.3"/>
<g clip-path="url(#cF4)">
<rect x="117" y="530.3" width="102.5" height="71.0" fill="#e1dcf4"/>
<ellipse cx="152" cy="542" rx="16" ry="8" fill="#e0c4e4" filter="url(#b3)" opacity="0.9"/>
<rect x="117" y="530.3" width="102.5" height="71.0" filter="url(#nMotF4)"/>
<rect x="117" y="530.3" width="102.5" height="71.0" filter="url(#nSpF4)"/>
<path d="M121.3,566 C122,560 128,555 135,554.3 C141,554 145,556 144.8,559 C144.5,565 139,570 133,573 C127,574.5 121,572 121.3,566Z" fill="#e4faf8" filter="url(#b05)"/>
</g>
<rect x="117" y="530.3" width="102.5" height="71.0" fill="none" stroke="#39447c" stroke-width="1.3"/>
<text x="253.9" y="491" font-size="8.4" text-anchor="middle" fill="#3a9f6c" stroke="#3a9f6c" stroke-width="0.2">Iron-loaded</text>
<text x="253.5" y="500.7" font-size="8.4" text-anchor="middle" fill="#3a9f6c" stroke="#3a9f6c" stroke-width="0.2">HKO</text>
<text x="253.6" y="563.6" font-size="8.4" text-anchor="middle" fill="#36466f" stroke="#36466f" stroke-width="0.2">Iron-depleted</text>
<text x="253.5" y="573.8" font-size="8.4" text-anchor="middle" fill="#36466f" stroke="#36466f" stroke-width="0.2">HKO</text>
<text x="392.2" y="440.4" font-size="10" text-anchor="middle" fill="#111" stroke="#111" stroke-width="0.35" font-weight="bold">Spleen</text>
<text x="339" y="452.8" font-size="8.3" text-anchor="middle" fill="#1a1a1a" stroke="#1a1a1a" stroke-width="0.2" font-style="italic">H&amp;E</text>
<text x="442.4" y="452.8" font-size="8.3" text-anchor="middle" fill="#1a1a1a" stroke="#1a1a1a" stroke-width="0.2" font-style="italic">Anti-Yersinia Ab</text>
<g clip-path="url(#cG1)">
<rect x="288" y="457.4" width="101.60000000000002" height="70.30000000000007" fill="#7c6db8"/>
<ellipse cx="319" cy="483" rx="13" ry="8" fill="#b078b8" filter="url(#b3)" opacity="0.55"/>
<ellipse cx="364" cy="490" rx="13" ry="8" fill="#b078b8" filter="url(#b3)" opacity="0.6"/>
<ellipse cx="368" cy="511" rx="12" ry="8" fill="#b078b8" filter="url(#b3)" opacity="0.6"/>
<ellipse cx="330" cy="521" rx="16" ry="4" fill="#a878ba" filter="url(#b3)" opacity="0.55"/>
<ellipse cx="300" cy="470" rx="12" ry="8" fill="#9c80c8" filter="url(#b3)" opacity="0.5"/>
<ellipse cx="384" cy="478" rx="6" ry="10" fill="#6c5cb4" filter="url(#b3)" opacity="0.8"/>
<ellipse cx="345" cy="485" rx="12" ry="8" fill="#8a84c6" filter="url(#b3)" opacity="0.8"/>
<ellipse cx="322" cy="466" rx="10" ry="6" fill="#8680c4" filter="url(#b3)" opacity="0.7"/>
<rect x="288" y="457.4" width="101.60000000000002" height="70.30000000000007" filter="url(#nDark2)"/>
<rect x="288" y="457.4" width="101.60000000000002" height="70.30000000000007" filter="url(#nPink)"/>
<rect x="288" y="457.4" width="101.60000000000002" height="70.30000000000007" filter="url(#nLight)"/>
<ellipse cx="305" cy="503" rx="15" ry="14" fill="#5a50aa" filter="url(#b3)" opacity="0.9"/>
<ellipse cx="303" cy="505" rx="9" ry="9" fill="#524aa6" filter="url(#b2)" opacity="0.5"/>
<path d="M324,461 C330,458 342,459 348,462 C352,466 350,472 344,474 C338,476 328,475 324,471 C321,467 321,463 324,461Z" fill="#a49cce" filter="url(#b2)" opacity="0.78"/>
<path d="M327,497 C330,494 336,494 339,497 C341,501 339,505 335,506 C330,506 326,503 327,497Z" fill="#a49cce" filter="url(#b2)" opacity="0.78"/>
<path d="M338,514 C342,509 352,508 358,512 C362,516 360,523 354,526 C347,528 340,526 337,521 C336,518 336,516 338,514Z" fill="#a29acc" filter="url(#b2)" opacity="0.78"/>
<ellipse cx="362" cy="496" rx="2" ry="1.6" fill="#f2f0fa" filter="url(#b05)" opacity="1"/>
<path d="M349.9,497.7 L351,505.9 L355.0,497.1 M351,505.9 L358.2,501.0" fill="none" stroke="#0a0612" stroke-width="1.8" stroke-linejoin="round"/>
</g>
<rect x="288" y="457.4" width="101.60000000000002" height="70.30000000000007" fill="none" stroke="#3a9c4c" stroke-width="1.3"/>
<g clip-path="url(#cG2)">
<rect x="392.2" y="457.4" width="102.5" height="70.30000000000007" fill="#dcc5e9"/>
<ellipse cx="409" cy="496" rx="20" ry="21" fill="#e498d8" filter="url(#b3)" opacity="0.95"/>
<ellipse cx="400" cy="515" rx="10" ry="10" fill="#e8acdf" filter="url(#b3)" opacity="0.8"/>
<ellipse cx="404" cy="468" rx="14" ry="9" fill="#e0d6f0" filter="url(#b3)" opacity="0.95"/>
<ellipse cx="462" cy="508" rx="14" ry="10" fill="#e8b4e4" filter="url(#b3)" opacity="0.7"/>
<ellipse cx="486" cy="515" rx="9" ry="10" fill="#d8c6f0" filter="url(#b3)" opacity="0.8"/>
<ellipse cx="486" cy="476" rx="8" ry="12" fill="#e4b8e6" filter="url(#b3)" opacity="0.6"/>
<ellipse cx="450" cy="482" rx="8" ry="6" fill="#e2d2ee" filter="url(#b3)" opacity="0.7"/>
<ellipse cx="477" cy="489" rx="3.5" ry="5" fill="#f8f6fc" filter="url(#b1)" opacity="0.95"/>
<rect x="392.2" y="457.4" width="102.5" height="70.30000000000007" filter="url(#nLight)"/>
<rect x="392.2" y="457.4" width="102.5" height="70.30000000000007" filter="url(#nSparse)"/>
<ellipse cx="456.5" cy="468.5" rx="10" ry="7.5" fill="#c2aca6" filter="url(#b1)" opacity="0.95"/>
<ellipse cx="442" cy="495.5" rx="4.5" ry="5" fill="#c2aca6" filter="url(#b1)" opacity="0.95"/>
<ellipse cx="455" cy="517" rx="8.5" ry="7" fill="#c2aca6" filter="url(#b1)" opacity="0.95"/>
<ellipse cx="445" cy="514" rx="2.5" ry="2.5" fill="#c2aca6" filter="url(#b1)" opacity="0.95"/>
<ellipse cx="489" cy="512" rx="2" ry="1.6" fill="#c2aca6" filter="url(#b1)" opacity="0.95"/>
<path d="M434.8,458 C436,465 438.8,470 438.2,475 C437,480 433,484 431.6,489 C429.4,496 428.6,503 429.8,509 C431,516 435,521 436.6,528" fill="none" stroke="#96145c" stroke-width="1.5"/>
<ellipse cx="432.5" cy="487.5" rx="2.8" ry="2" fill="#d0308a" filter="url(#b1)" opacity="0.8"/>
<path d="M455.4,498.5 L456.5,506.7 L460.5,497.9 M456.5,506.7 L463.7,501.8" fill="none" stroke="#0a0612" stroke-width="1.8" stroke-linejoin="round"/>
</g>
<rect x="392.2" y="457.4" width="102.5" height="70.30000000000007" fill="none" stroke="#3a9c4c" stroke-width="1.3"/>
<g clip-path="url(#cG3)">
<rect x="288" y="530.2" width="101.60000000000002" height="70.69999999999993" fill="#5a3cb0"/>
<ellipse cx="298" cy="560" rx="10" ry="26" fill="#9c48b6" filter="url(#b3)" opacity="0.85"/>
<path d="M304,530 L322,530 L336,548 L356,566 L378,579 L392,586 L392,602 L372,602 L352,590 L330,574 L312,556Z" fill="#9e48b4" filter="url(#b3)" opacity="0.85"/>
<ellipse cx="326" cy="594" rx="20" ry="8" fill="#4e38b2" filter="url(#b3)" opacity="0.95"/>
<ellipse cx="364" cy="546" rx="26" ry="15" fill="#4c38b2" filter="url(#b5)" opacity="0.9"/>
<ellipse cx="300" cy="590" rx="8" ry="8" fill="#6a40b8" filter="url(#b3)" opacity="0.6"/>
<rect x="288" y="530.2" width="101.60000000000002" height="70.69999999999993" filter="url(#nBlue)"/>
<rect x="288" y="530.2" width="101.60000000000002" height="70.69999999999993" filter="url(#nMag)"/>
<ellipse cx="337" cy="572" rx="1.5" ry="1.3" fill="#b094dc" filter="url(#b05)" opacity="0.6"/>
<ellipse cx="328" cy="565" rx="1.5" ry="1.3" fill="#b094dc" filter="url(#b05)" opacity="0.6"/>
<ellipse cx="296" cy="566" rx="1.5" ry="1.3" fill="#b094dc" filter="url(#b05)" opacity="0.6"/>
<ellipse cx="306" cy="570" rx="1.5" ry="1.3" fill="#b094dc" filter="url(#b05)" opacity="0.6"/>
<ellipse cx="350" cy="580" rx="1.5" ry="1.3" fill="#b094dc" filter="url(#b05)" opacity="0.6"/>
<ellipse cx="322" cy="556" rx="1.5" ry="1.3" fill="#b094dc" filter="url(#b05)" opacity="0.6"/>
</g>
<rect x="288" y="530.2" width="101.60000000000002" height="70.69999999999993" fill="none" stroke="#39447c" stroke-width="1.3"/>
<g clip-path="url(#cG4)">
<rect x="392.2" y="530.2" width="102.5" height="70.69999999999993" fill="#cf9ae6"/>
<ellipse cx="434" cy="558" rx="26" ry="16" fill="#c8b6ee" filter="url(#b5)" opacity="0.85"/>
<ellipse cx="482" cy="548" rx="12" ry="16" fill="#bcaeec" filter="url(#b3)" opacity="0.9"/>
<ellipse cx="404" cy="590" rx="14" ry="8" fill="#d890e0" filter="url(#b3)" opacity="0.8"/>
<ellipse cx="412" cy="538" rx="20" ry="6" fill="#d894e2" filter="url(#b3)" opacity="0.7"/>
<ellipse cx="470" cy="592" rx="16" ry="8" fill="#d498e4" filter="url(#b3)" opacity="0.6"/>
<rect x="392.2" y="530.2" width="102.5" height="70.69999999999993" filter="url(#nLight)"/>
<rect x="392.2" y="530.2" width="102.5" height="70.69999999999993" filter="url(#nLav)"/>
<ellipse cx="401" cy="552" rx="1.1" ry="1.1" fill="#efeafa" filter="url(#b05)" opacity="0.75"/>
<ellipse cx="428" cy="557" rx="1.1" ry="1.1" fill="#efeafa" filter="url(#b05)" opacity="0.75"/>
<ellipse cx="437" cy="562" rx="1.1" ry="1.1" fill="#efeafa" filter="url(#b05)" opacity="0.75"/>
<ellipse cx="433" cy="569" rx="1.1" ry="1.1" fill="#efeafa" filter="url(#b05)" opacity="0.75"/>
<path d="M438.4,530 C444,540 452,548 460,559 C468,570 477,584 484.4,599" fill="none" stroke="#6e1672" stroke-width="1.2"/>
</g>
<rect x="392.2" y="530.2" width="102.5" height="70.69999999999993" fill="none" stroke="#39447c" stroke-width="1.3"/>
<path d="M436.4,527.5 L438.6,530.5" fill="none" stroke="#a02068" stroke-width="1.2"/>
<text x="115.6" y="634.2" font-size="10" text-anchor="middle" fill="#111" stroke="#111" stroke-width="0.35" font-weight="bold">Peyer’s patches</text>
<text x="63.6" y="647" font-size="8.3" text-anchor="middle" fill="#1a1a1a" stroke="#1a1a1a" stroke-width="0.2" font-style="italic">H&amp;E</text>
<text x="167.8" y="647.3" font-size="8.3" text-anchor="middle" fill="#1a1a1a" stroke="#1a1a1a" stroke-width="0.2" font-style="italic">Anti-Yersinia Ab</text>
<g clip-path="url(#cH1)">
<rect x="12.5" y="651.7" width="102.0" height="70.29999999999995" fill="#7e64b8"/>
<ellipse cx="85" cy="672" rx="26" ry="16" fill="#58449c" filter="url(#b5)" opacity="0.95"/>
<ellipse cx="55" cy="662" rx="40" ry="9" fill="#5a469e" filter="url(#b5)" opacity="0.9"/>
<ellipse cx="30" cy="700" rx="16" ry="18" fill="#8e74cc" filter="url(#b5)" opacity="0.8"/>
<ellipse cx="63" cy="707" rx="11" ry="10" fill="#a896d8" filter="url(#b2)" opacity="0.95"/>
<ellipse cx="24" cy="682" rx="10" ry="8" fill="#957cce" filter="url(#b3)" opacity="0.7"/>
<ellipse cx="44" cy="714" rx="10" ry="6" fill="#957cce" filter="url(#b3)" opacity="0.7"/>
<ellipse cx="63" cy="707" rx="11.5" ry="10.5" fill="none" stroke="#c4b6e6" stroke-width="1.1" filter="url(#b05)" opacity="0.45"/>
<ellipse cx="95" cy="708" rx="12" ry="8" fill="#9480d0" filter="url(#b3)" opacity="0.8"/>
<ellipse cx="27.7" cy="662.8" rx="3" ry="2.6" fill="#cf7fc0" filter="url(#b1)" opacity="0.9"/>
<ellipse cx="112" cy="654" rx="5" ry="4" fill="#d4d2ee" filter="url(#b2)" opacity="0.9"/>
<rect x="12.5" y="651.7" width="102.0" height="70.29999999999995" filter="url(#nViolet)"/>
<rect x="12.5" y="651.7" width="102.0" height="70.29999999999995" filter="url(#nLav)"/>
<rect x="12.5" y="651.7" width="102.0" height="70.29999999999995" filter="url(#nLight)"/>
<path d="M69.3,679.4 L70.4,687.6 L74.4,678.8 M70.4,687.6 L77.6,682.7" fill="none" stroke="#0a0612" stroke-width="1.8" stroke-linejoin="round"/>
</g>
<rect x="12.5" y="651.7" width="102.0" height="70.29999999999995" fill="none" stroke="#3a9c4c" stroke-width="1.3"/>
<g clip-path="url(#cH2)">
<rect x="117.3" y="651.7" width="102.00000000000001" height="70.29999999999995" fill="#c492ce"/>
<ellipse cx="180" cy="662" rx="36" ry="9" fill="#b874c6" filter="url(#b5)" opacity="0.8"/>
<ellipse cx="131" cy="664" rx="15" ry="11" fill="#d2c0ea" filter="url(#b3)" opacity="0.95"/>
<ellipse cx="128" cy="690" rx="11" ry="13" fill="#d2b4e2" filter="url(#b3)" opacity="0.9"/>
<ellipse cx="136" cy="710" rx="17" ry="11" fill="#d6bce6" filter="url(#b3)" opacity="0.9"/>
<ellipse cx="163" cy="707" rx="8" ry="10" fill="#dedcf1" filter="url(#b2)" opacity="1"/>
<ellipse cx="172" cy="712" rx="10" ry="6" fill="#dcd8ef" filter="url(#b2)" opacity="0.9"/>
<ellipse cx="150" cy="717" rx="12" ry="4" fill="#dccfec" filter="url(#b2)" opacity="0.9"/>
<ellipse cx="206" cy="706" rx="13" ry="14" fill="#d2c6ec" filter="url(#b3)" opacity="0.95"/>
<ellipse cx="160" cy="692" rx="5" ry="9" fill="#d8c8ea" filter="url(#b2)" opacity="0.7" transform="rotate(30 160 692)"/>
<rect x="117.3" y="651.7" width="102.00000000000001" height="70.29999999999995" filter="url(#nPurp)"/>
<rect x="117.3" y="651.7" width="102.00000000000001" height="70.29999999999995" filter="url(#nLight)"/>
<rect x="117.3" y="651.7" width="102.00000000000001" height="70.29999999999995" filter="url(#nLav)"/>
<ellipse cx="171" cy="690.5" rx="12" ry="5.5" fill="#ac94b0" filter="url(#b1)" opacity="0.95"/>
<ellipse cx="163" cy="686" rx="4" ry="4" fill="#b39cb6" filter="url(#b1)" opacity="0.8"/>
<path d="M160,720 q14,-4 26,-9 q8,-3 16,2" fill="none" stroke="#b060b8" stroke-width="1.2" filter="url(#b05)"/>
<circle cx="183" cy="703" r="0.9" fill="#4a3040"/>
<circle cx="188" cy="706" r="0.9" fill="#4a3040"/>
<circle cx="192" cy="709" r="0.9" fill="#4a3040"/>
<circle cx="201" cy="714" r="0.9" fill="#4a3040"/>
<circle cx="204" cy="716" r="0.9" fill="#4a3040"/>
<circle cx="152" cy="675" r="0.9" fill="#4a3040"/>
<circle cx="186" cy="683" r="0.9" fill="#4a3040"/>
<circle cx="139" cy="678" r="0.9" fill="#4a3040"/>
<circle cx="195" cy="701" r="0.9" fill="#4a3040"/>
<circle cx="198" cy="704" r="0.9" fill="#4a3040"/>
<rect x="119.5" y="714" width="3" height="3.2" fill="#f4f2fa"/>
<path d="M172.2,678.5 L173.3,686.7 L177.3,677.9 M173.3,686.7 L180.5,681.8" fill="none" stroke="#0a0612" stroke-width="1.8" stroke-linejoin="round"/>
</g>
<rect x="117.3" y="651.7" width="102.00000000000001" height="70.29999999999995" fill="none" stroke="#3a9c4c" stroke-width="1.3"/>
<g clip-path="url(#cH3)">
<rect x="12.5" y="725.2" width="102.0" height="69.79999999999995" fill="#6652ac"/>
<ellipse cx="55" cy="748" rx="34" ry="18" fill="#54429e" filter="url(#b5)" opacity="0.9"/>
<ellipse cx="104" cy="740" rx="12" ry="14" fill="#9a8cd6" filter="url(#b5)" opacity="0.85"/>
<ellipse cx="96" cy="778" rx="16" ry="14" fill="#7e6ac8" filter="url(#b5)" opacity="0.8"/>
<ellipse cx="30" cy="785" rx="18" ry="10" fill="#7460c2" filter="url(#b5)" opacity="0.7"/>
<rect x="12.5" y="725.2" width="102.0" height="69.79999999999995" filter="url(#nViolet)"/>
<rect x="12.5" y="725.2" width="102.0" height="69.79999999999995" filter="url(#nLav)"/>
<g fill="none" stroke="#beb4ea" stroke-width="2.1" stroke-linecap="round" filter="url(#b05)"><path d="M16,757 C20,765 24,772 30,777 C36,781 41,784 43,789 C44,792 45,794 46,796"/><path d="M13,775 C17,780 20,787 22,796"/><path d="M27,776 C30,783 32,790 33,796"/><path d="M43,786 C45,781 49,779 53,779 C58,778 62,776 65,774"/><path d="M46,783 C50,781 54,783 55,787 C56,791 55,794 55,796"/><path d="M98,781 C97,786 97,791 98,796"/><path d="M109,766 C108,774 109,783 110,791"/></g>
</g>
<rect x="12.5" y="725.2" width="102.0" height="69.79999999999995" fill="none" stroke="#39447c" stroke-width="1.3"/>
<g clip-path="url(#cH4)">
<rect x="117.3" y="725.2" width="102.00000000000001" height="69.79999999999995" fill="#d9c0ea"/>
<path d="M122,726 L216,726 C216,745 210,760 198,770 C186,781 170,782 160,777 C148,770 138,760 130,752 C124,746 122,738 122,726Z" fill="#d4a0d8" filter="url(#b2)"/>
<ellipse cx="168" cy="744" rx="32" ry="15" fill="#d29cd6" filter="url(#b5)" opacity="0.8"/>
<ellipse cx="136" cy="784" rx="20" ry="9" fill="#d6aae4" filter="url(#b3)" opacity="0.8"/>
<ellipse cx="206" cy="786" rx="12" ry="8" fill="#d8b0e6" filter="url(#b3)" opacity="0.7"/>
<g fill="none" stroke="#e4def4" stroke-width="1.6" stroke-linecap="round" filter="url(#b05)" opacity="0.85"><path d="M119,752 C130,755 140,764 150,774 C158,781 168,784 180,780 C190,776 196,772 200,766"/><path d="M124,764 C132,770 138,780 142,794"/><path d="M132,762 C142,770 150,782 156,794"/></g>
<rect x="117.3" y="725.2" width="102.00000000000001" height="69.79999999999995" filter="url(#nLight)"/>
</g>
<rect x="117.3" y="725.2" width="102.00000000000001" height="69.79999999999995" fill="none" stroke="#39447c" stroke-width="1.3"/>
<text x="253.9" y="685.2" font-size="8.4" text-anchor="middle" fill="#3a9f6c" stroke="#3a9f6c" stroke-width="0.2">Iron-loaded</text>
<text x="253.3" y="695.4" font-size="8.4" text-anchor="middle" fill="#3a9f6c" stroke="#3a9f6c" stroke-width="0.2">HKO</text>
<text x="253.3" y="757.9" font-size="8.4" text-anchor="middle" fill="#36466f" stroke="#36466f" stroke-width="0.2">Iron-depleted</text>
<text x="253.3" y="768.2" font-size="8.4" text-anchor="middle" fill="#36466f" stroke="#36466f" stroke-width="0.2">HKO</text>
<rect x="0" y="0" width="520" height="1.2" fill="#000"/>
<rect x="0" y="0" width="1.5" height="805" fill="#000"/>
<rect x="518.5" y="0" width="1.5" height="805" fill="#000"/>
<rect x="0" y="803.5" width="520" height="1.5" fill="#000"/>
</svg>
</body></html>
